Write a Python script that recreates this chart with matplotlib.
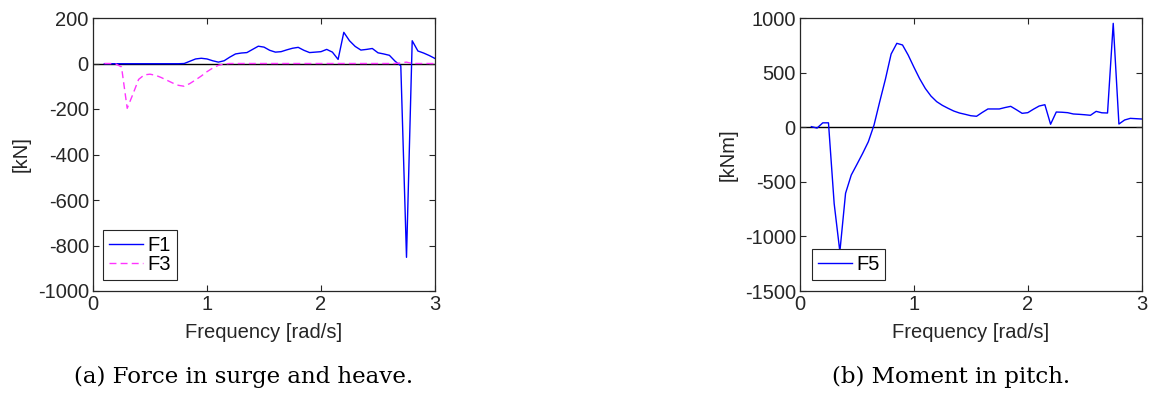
import numpy as np
import matplotlib
matplotlib.use("Agg")
import matplotlib.pyplot as plt

plt.rcParams['font.family'] = ['Liberation Sans', 'DejaVu Sans']
plt.rcParams['axes.unicode_minus'] = False

# Frequency grid [rad/s]
freq = np.round(np.arange(0.10, 3.0001, 0.05), 2)

# Surge force F1 [kN]
f1 = [-1, -1, -1, -1, -1, -1, -1, -1, -1, -1, -1, -1, -1, -1,
      0, 10, 20, 23, 20, 12, 6, 12, 28, 42, 46, 48, 62, 76, 72, 58,
      50, 52, 60, 67, 71, 58, 48, 50, 52, 62, 50, 18, 137, 100, 75, 59,
      62, 66, 47, 42, 36, 10, -10, -852, 100, 55, 46, 35, 22]

# Heave force F3 [kN]
f3 = [0, 0, -2, -15, -197, -135, -70, -50, -47, -52, -62, -74, -86, -96,
      -100, -88, -72, -55, -36, -20, -8, -2, 0, 0, 0, 0, 0, 0, 0, 0,
      0, 0, 0, 0, 0, 0, 0, 0, 0, 0, 0, 0, 0, 0, 0, 0,
      0, 0, 0, 0, 0, 0, 3, 6, 0, 0, 0, 0, 0]

# Pitch moment F5 [kNm]
f5 = [5, -8, 40, 40, -700, -1140, -605, -438, -340, -240, -133, 20, 234, 440,
      670, 768, 753, 660, 550, 445, 355, 285, 234, 200, 173, 148, 130, 118, 105, 100,
      135, 167, 167, 167, 180, 191, 160, 127, 133, 165, 194, 206, 27, 139, 137, 133,
      121, 118, 114, 109, 145, 132, 130, 951, 29, 66, 81, 78, 75]

left_yticks = [200, 0, -200, -400, -600, -800, -1000]
right_yticks = [1000, 500, 0, -500, -1000, -1500]
xticks = [0, 1, 2, 3]

W, H = 1156, 394
fig = plt.figure(figsize=(W / 100, H / 100), dpi=100)

axc = '#262626'
fs = 14.5


def style(ax):
    for s in ax.spines.values():
        s.set_color(axc)
        s.set_linewidth(0.9)
    ax.tick_params(direction='in', top=True, right=True, colors=axc,
                   labelsize=fs, length=4, width=0.8, pad=3)
    ax.set_xlim(0, 3)
    ax.set_xticks(xticks)
    ax.set_xlabel('Frequency [rad/s]', fontsize=fs, color=axc, labelpad=6)


leg_kw = dict(loc='lower left', borderaxespad=0, fontsize=fs, fancybox=False,
              edgecolor=axc, framealpha=1, handlelength=1.7,
              handletextpad=0.2, labelspacing=0.0, borderpad=0.3)

ax1 = fig.add_axes([93 / W, 1 - 291 / H, 342 / W, 273 / H])
ax1.axhline(0, color='black', lw=1.0, zorder=1)
ax1.plot(freq, f1, color='#0000ff', lw=1.0, label='F1', zorder=2)
ax1.plot(freq, f3, color='#ff33ff', lw=1.0, ls=(0, (5, 3)), label='F3', zorder=3)
ax1.set_ylim(-1000, 200)
ax1.set_yticks(left_yticks)
ax1.set_ylabel('[kN]', fontsize=fs, color=axc, labelpad=5)
style(ax1)
leg1 = ax1.legend(bbox_to_anchor=(10 / 342, 11 / 273), **leg_kw)
leg1.get_frame().set_linewidth(0.8)

ax2 = fig.add_axes([800 / W, 1 - 291 / H, 341.7 / W, 273 / H])
ax2.axhline(0, color='black', lw=1.0, zorder=1)
ax2.plot(freq, f5, color='#0000ff', lw=1.0, label='F5', zorder=2)
ax2.set_ylim(-1500, 1000)
ax2.set_yticks(right_yticks)
ax2.set_ylabel('[kNm]', fontsize=fs, color=axc, labelpad=5)
style(ax2)
leg2 = ax2.legend(bbox_to_anchor=(11.7 / 341.7, 11 / 273), **leg_kw)
leg2.get_frame().set_linewidth(0.8)

cap_kw = dict(fontsize=16.5, family=['DejaVu Serif'], ha='center', va='baseline',
              color='black')
fig.text(244 / W, 1 - 383 / H, '(a) Force in surge and heave.', **cap_kw)
fig.text(951 / W, 1 - 383 / H, '(b) Moment in pitch.', **cap_kw)

fig.savefig('out.png', dpi=100)
